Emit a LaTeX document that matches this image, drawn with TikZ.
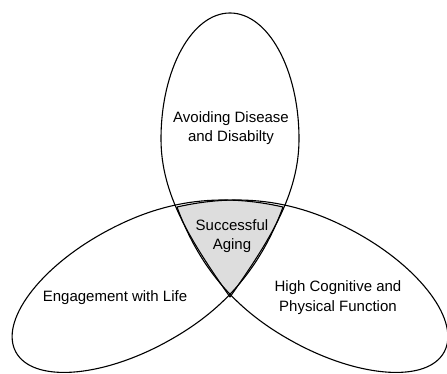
\documentclass[tikz,border=0pt]{standalone}
\usepackage{fontspec}
\setmainfont{Liberation Sans}
\usepackage{tikz}

% petal outline: pointed tip at the origin, axis along +x
% #1 = distance to widest point, #2 = half width,
% #3 = length of the round end, #4 = lift of the first control point
\newcommand{\petalshape}[4]{%
    (0,0) .. controls (57,#4) and (#1-55,#2) .. (#1,#2)
    .. controls (#1+0.552*#3,#2) and (#1+#3,0.552*#2) .. (#1+#3,0)
    .. controls (#1+#3,-0.552*#2) and (#1+0.552*#3,-#2) .. (#1,-#2)
    .. controls (#1-55,-#2) and (57,-#4) .. (0,0) -- cycle}

\begin{document}
\begin{tikzpicture}[
        x=1pt, y=1pt,
        petal/.style={draw=black, line width=1.1pt, line join=round},
        core/.style={fill=gray!27},
        label/.style={align=center, text=black, font=\fontsize{15}{19.5}\selectfont},
        top/.style={shift={(230,77)}, rotate=90},
        left/.style={shift={(283,167)}, rotate=208.5},
        right/.style={shift={(177,167)}, rotate=-28.5}
    ]
    \useasboundingbox (0,0) rectangle (447,374);

    % Overlap of the three petals
    \begin{scope}
        \clip[top] \petalshape{158}{69}{126}{40};
        \clip[left] \petalshape{168}{63}{136}{50};
        \fill[core, right] \petalshape{168}{63}{136}{50};
    \end{scope}

    % Outlines
    \draw[petal, top] \petalshape{158}{69}{126}{40};
    \draw[petal, left] \petalshape{168}{63}{136}{50};
    \draw[petal, right] \petalshape{168}{63}{136}{50};

    \node[label] (disease) at (231,246) {Avoiding Disease\\and Disabilty};
    \node[label] (aging) at (232,138) {Successful\\Aging};
    \node[label] (life) at (115,76) {Engagement with Life};
    \node[label] (function) at (338,76.5) {High Cognitive and\\Physical Function};
\end{tikzpicture}
\end{document}
